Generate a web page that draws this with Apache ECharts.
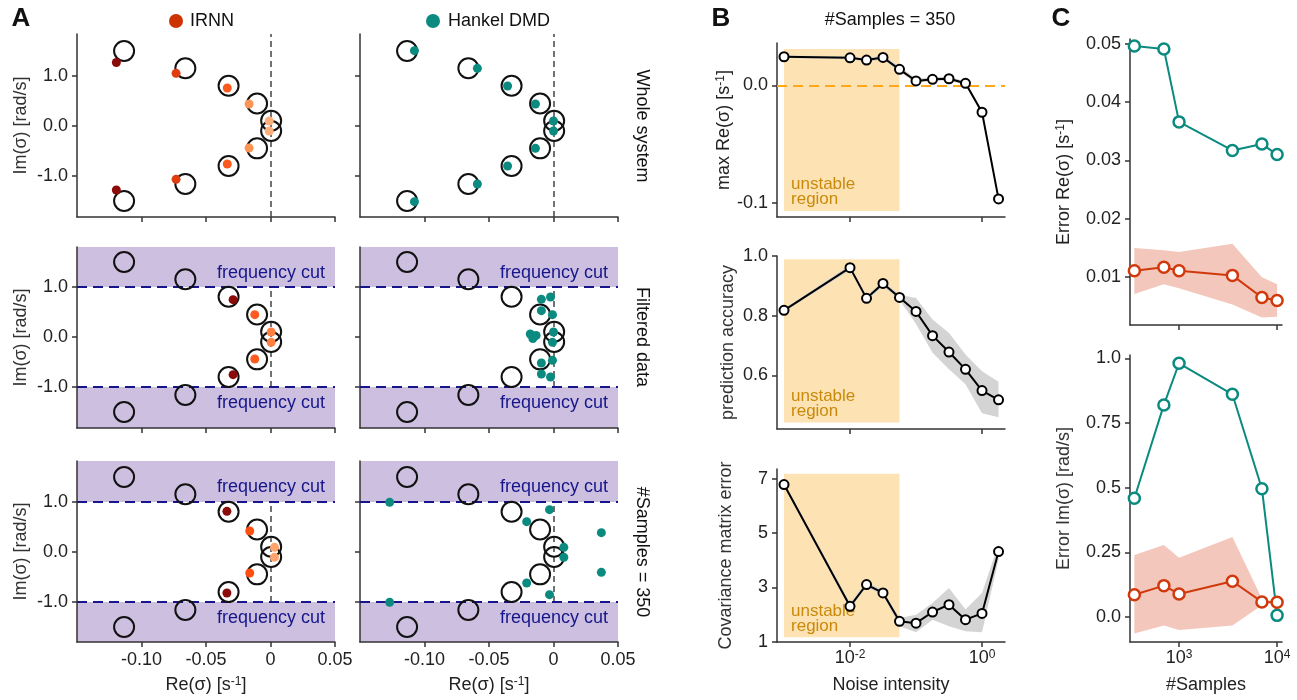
<!DOCTYPE html>
<html>
<head>
<meta charset="utf-8">
<script src="https://cdn.jsdelivr.net/npm/echarts@6/dist/echarts.min.js"></script>
<style>
  html, body { margin: 0; background: #fff; }
  #main { width: 1297px; height: 700px; }
</style>
</head>
<body>
<div id="main"></div>
<script>
// ---- panel A: eigenvalues (Re, Im) ----
let trueEig = [[-0.1135, 1.5], [-0.066, 1.155], [-0.0325, 0.805], [-0.0104, 0.45], [0.0005, 0.105],
  [0.0005, -0.1], [-0.0104, -0.447], [-0.0325, -0.8], [-0.066, -1.16], [-0.1135, -1.5]];

let irnnWhole = [[-0.1195, 1.27], [-0.0732, 1.053], [-0.0335, 0.76], [-0.0166, 0.44], [-0.001, 0.1],
  [-0.001, -0.1], [-0.0166, -0.44], [-0.0335, -0.76], [-0.0732, -1.067], [-0.1195, -1.28]];
let hankelWhole = [[-0.1078, 1.507], [-0.059, 1.153], [-0.0356, 0.8], [-0.014, 0.44], [0, 0.1],
  [0, -0.1], [-0.014, -0.447], [-0.0356, -0.8], [-0.059, -1.16], [-0.1078, -1.513]];

let irnnFiltered = [[-0.029, 0.747], [-0.0122, 0.447], [0.0005, 0.1], [0.0005, -0.107], [-0.0122, -0.44], [-0.029, -0.753]];
let hankelFiltered = [[-0.0023, 0.8], [-0.0094, 0.753], [-0.0094, 0.527], [-0.0008, 0.447], [-0.018, 0.06],
  [-0.0135, 0.03], [-0.016, -0.03], [0, 0.1], [-0.0008, -0.107], [-0.0008, -0.467], [-0.0094, -0.52],
  [-0.0094, -0.74], [-0.0023, -0.8]];

let irnnSamples = [[-0.0338, 0.813], [-0.0161, 0.42], [0.0031, 0.093], [0.0031, -0.107], [-0.0161, -0.42], [-0.0338, -0.82]];
let hankelSamples = [[-0.127, 0.993], [-0.0031, 0.847], [-0.0208, 0.607], [0.0371, 0.387], [0.008, 0.093],
  [0.008, -0.107], [0.0371, -0.407], [-0.0208, -0.62], [-0.0031, -0.853], [-0.127, -1.007]];

// ---- panel B: vs noise intensity ----
let noise = [0.001, 0.01, 0.0178, 0.0316, 0.0562, 0.1, 0.178, 0.316, 0.562, 1, 1.78];
let maxRe = [0.0243, 0.0234, 0.0215, 0.0237, 0.0136, 0.0037, 0.0051, 0.0056, 0.0017, -0.0229, -0.0966];
let maxReLo = [0.0232, 0.0222, 0.0200, 0.0220, 0.0116, 0.0022, 0.0036, 0.0040, 0.0003, -0.0245, -0.0985];
let maxReHi = [0.0254, 0.0248, 0.0232, 0.0256, 0.0160, 0.0055, 0.0068, 0.0075, 0.0032, -0.0212, -0.0948];
let accuracy = [0.818, 0.961, 0.858, 0.908, 0.861, 0.814, 0.733, 0.678, 0.620, 0.549, 0.518];
let accLo = [0.813, 0.952, 0.850, 0.898, 0.853, 0.772, 0.676, 0.620, 0.570, 0.473, 0.459];
let accHi = [0.823, 0.970, 0.866, 0.916, 0.870, 0.859, 0.787, 0.742, 0.670, 0.614, 0.578];
let covErr = [6.78, 2.31, 3.11, 2.80, 1.76, 1.69, 2.10, 2.37, 1.82, 2.05, 4.32];
let covLo = [6.70, 2.22, 3.02, 2.72, 1.58, 1.36, 1.82, 1.58, 1.39, 1.36, 4.02];
let covHi = [6.86, 2.42, 3.22, 2.90, 1.88, 2.00, 2.43, 2.98, 2.19, 2.80, 4.61];
let unstableNoise = [0.001, 0.0562];

// ---- panel C: vs number of samples ----
let samples = [350, 700, 1000, 3500, 7000, 10000];
let hankelReErr = [0.0496, 0.0491, 0.0366, 0.0317, 0.0328, 0.0310];
let irnnReErr = [0.0111, 0.0117, 0.0111, 0.0103, 0.0065, 0.0060];
let irnnReLo = [0.0071, 0.0088, 0.0081, 0.0053, 0.0031, 0.0032];
let irnnReHi = [0.0150, 0.0146, 0.0143, 0.0157, 0.0100, 0.0088];
let hankelImErr = [0.459, 0.820, 0.981, 0.861, 0.496, 0.006];
let irnnImErr = [0.086, 0.121, 0.089, 0.138, 0.058, 0.057];
let irnnImLo = [-0.064, -0.033, -0.051, -0.033, 0.045, 0.057];
let irnnImHi = [0.239, 0.278, 0.229, 0.309, 0.070, 0.057];

// colours
const FONT = 'Liberation Sans, Arial, sans-serif';
const AX = '#333';
const TEAL = '#0b8a80';
const RED = '#d0390c';
const NAVY = '#16168a';
const PURPLE = '#cdbfe0';
const UNSTABLE = '#fde3b3';
const DR = '#8b0a0a', RO = '#df3d0e', OR = '#fb5a1e', LO = '#fc9456', PO = '#fdaf7c';
let irnnWholeColors = [DR, RO, OR, LO, PO, PO, LO, OR, RO, DR];
let irnnFilteredColors = [DR, '#ff5a1f', '#ff8040', '#ff8040', '#ff5a1f', DR];
let irnnSamplesColors = [DR, '#ff4f10', '#ffa46c', '#ffa46c', '#ff4f10', DR];

const chartDom = document.getElementById('main');
const myChart = echarts.init(chartDom);

const rich = {
  a: { fontSize: 18, fontFamily: FONT, color: '#222' },
  b: { fontSize: 12, fontFamily: FONT, color: '#222', verticalAlign: 'top' }
};
const supLabel = (base, sup) => '{a|' + base + '}{b|' + sup + '}';

function axisCommon(extra) {
  return Object.assign({
    axisLine: { onZero: false, lineStyle: { color: AX, width: 1.5 } },
    splitLine: { show: false }
  }, extra);
}

function valueAxis(grid, min, max, ticks, showLabels, fmt, name, gap) {
  return axisCommon({
    type: 'value', gridIndex: grid, min: min, max: max,
    axisTick: { customValues: ticks, length: 5, lineStyle: { color: AX, width: 1.5 } },
    axisLabel: {
      show: showLabels, customValues: ticks, formatter: fmt, margin: 9,
      fontSize: 18, fontFamily: FONT, color: '#222', rich: rich
    },
    name: name || '', nameLocation: 'middle', nameGap: gap || 30,
    nameTextStyle: { fontSize: 18, fontFamily: FONT, color: '#333', rich: rich }
  });
}

function logAxis(grid, min, max, ticks, showLabels, fmt, name) {
  return axisCommon({
    type: 'log', logBase: 10, gridIndex: grid, min: min, max: max,
    axisTick: { customValues: ticks, length: 5, lineStyle: { color: AX, width: 1.5 } },
    axisLabel: {
      show: showLabels, customValues: ticks, formatter: fmt, margin: 7,
      fontSize: 18, fontFamily: FONT, color: '#222', rich: rich
    },
    minorTick: { show: false },
    name: name || '', nameLocation: 'middle', nameGap: 34,
    nameTextStyle: { fontSize: 18, fontFamily: FONT, color: '#222' }
  });
}

function band(axisIdx, xs, lo, hi, color) {
  return {
    type: 'custom', xAxisIndex: axisIdx, yAxisIndex: axisIdx, silent: true, z: 2,
    data: [[xs[0], lo[0]]],
    renderItem: function (params, api) {
      let pts = [];
      for (let i = 0; i < xs.length; i++) pts.push(api.coord([xs[i], hi[i]]));
      for (let i = xs.length - 1; i >= 0; i--) pts.push(api.coord([xs[i], lo[i]]));
      return { type: 'polygon', shape: { points: pts }, style: { fill: color } };
    }
  };
}

const pairs = (xs, ys) => xs.map((x, i) => [x, ys[i]]);

// grids
const aTops = [34, 247, 461], aHeights = [183, 181, 181], aLefts = [77, 360];
let grid = [];
for (let r = 0; r < 3; r++) {
  for (let c = 0; c < 2; c++) {
    grid.push({ left: aLefts[c], top: aTops[r], width: 258, height: aHeights[r] });
  }
}
grid.push({ left: 777, top: 43, width: 228, height: 174 });
grid.push({ left: 777, top: 256, width: 228, height: 173 });
grid.push({ left: 777, top: 469, width: 228, height: 173 });
grid.push({ left: 1130, top: 39, width: 152, height: 286 });
grid.push({ left: 1130, top: 355, width: 152, height: 287 });

const aYRanges = [[-1.82, 1.84], [-1.82, 1.80], [-1.80, 1.82]];
const reTicks = [-0.1, -0.05, 0, 0.05];
const reFmt = v => (v === 0 ? '0' : v.toFixed(2));
const imFmt = v => v.toFixed(1);

let xAxis = [], yAxis = [];
for (let r = 0; r < 3; r++) {
  for (let c = 0; c < 2; c++) {
    let g = r * 2 + c;
    xAxis.push(valueAxis(g, -0.15, 0.05, reTicks, r === 2, reFmt,
      r === 2 ? '{a|Re(σ) [s}{b|-1}{a|]}' : '', 34));
    yAxis.push(valueAxis(g, aYRanges[r][0], aYRanges[r][1], [-1, 0, 1], c === 0, imFmt,
      c === 0 ? 'Im(σ) [rad/s]' : '', 47));
  }
}
const noiseFmt = v => (Math.abs(v - 0.01) < 1e-9 ? supLabel('10', '-2') : supLabel('10', '0'));
for (let i = 0; i < 3; i++) {
  xAxis.push(logAxis(6 + i, 0.000783, 2.23, [0.01, 1], i === 2, noiseFmt, i === 2 ? 'Noise intensity' : ''));
}
yAxis.push(valueAxis(6, -0.112, 0.036, [-0.1, 0], true, v => v.toFixed(1), '{a|max Re(σ) [s}{b|-1}{a|]}', 40));
yAxis.push(valueAxis(7, 0.42, 1.0, [0.6, 0.8, 1.0], true, v => v.toFixed(1), 'prediction accuracy', 40));
yAxis.push(valueAxis(8, 1, 7.35, [1, 3, 5, 7], true, v => String(v), 'Covariance matrix error', 42));
const sampFmt = v => (v < 5000 ? supLabel('10', '3') : supLabel('10', '4'));
xAxis.push(logAxis(9, 316, 11220, [1000, 10000], false, sampFmt, ''));
xAxis.push(logAxis(10, 316, 11220, [1000, 10000], true, sampFmt, '#Samples'));
yAxis.push(valueAxis(9, 0.0018, 0.0508, [0.01, 0.02, 0.03, 0.04, 0.05], true, v => v.toFixed(2),
  '{a|Error Re(σ) [s}{b|-1}{a|]}', 57));
yAxis.push(valueAxis(10, -0.097, 1.013, [0, 0.25, 0.5, 0.75, 1], true,
  v => (v === 0 || v === 1 ? v.toFixed(1) : String(v)), 'Error Im(σ) [rad/s]', 57));

// series
let series = [];
const freqLabel = (dy) => ({
  show: true, position: 'insideRight', distance: 10, offset: [0, dy],
  formatter: 'frequency cut', color: NAVY, fontSize: 18, fontFamily: FONT
});

const aDots = [
  [irnnWhole, irnnWholeColors], [hankelWhole, null],
  [irnnFiltered, irnnFilteredColors], [hankelFiltered, null],
  [irnnSamples, irnnSamplesColors], [hankelSamples, null]
];

for (let g = 0; g < 6; g++) {
  let r = Math.floor(g / 2);
  let ymin = aYRanges[r][0], ymax = aYRanges[r][1];
  let circles = {
    type: 'scatter', xAxisIndex: g, yAxisIndex: g, z: 3,
    symbol: 'circle', symbolSize: 20,
    itemStyle: { color: 'rgba(0,0,0,0)', borderColor: '#111', borderWidth: 2, opacity: 1 },
    data: trueEig
  };
  if (r === 0) {
    circles.markLine = {
      z: 1, silent: true, symbol: 'none', label: { show: false },
      lineStyle: { color: '#444', width: 1.5, type: [6, 4] },
      data: [{ xAxis: 0 }]
    };
  } else {
    circles.markArea = {
      z: 0, silent: true,
      itemStyle: { color: PURPLE },
      data: [
        [{ coord: [-0.15, 1], label: freqLabel(6) }, { coord: [0.05, ymax] }],
        [{ coord: [-0.15, ymin], label: freqLabel(-4) }, { coord: [0.05, -1] }]
      ]
    };
    circles.markLine = {
      z: 1, silent: true, symbol: 'none', label: { show: false },
      data: [
        [{ coord: [0, -1], lineStyle: { color: '#444', width: 1.5, type: [6, 4] } }, { coord: [0, 1] }],
        [{ coord: [-0.15, 1], lineStyle: { color: NAVY, width: 2, type: [10, 6] } }, { coord: [0.05, 1] }],
        [{ coord: [-0.15, -1], lineStyle: { color: NAVY, width: 2, type: [10, 6] } }, { coord: [0.05, -1] }]
      ]
    };
  }
  series.push(circles);
  let pts = aDots[g][0], cols = aDots[g][1];
  series.push({
    type: 'scatter', xAxisIndex: g, yAxisIndex: g, z: 4,
    symbol: 'circle', symbolSize: 9,
    itemStyle: { color: TEAL, opacity: 1 },
    data: pts.map((p, i) => (cols ? { value: p, itemStyle: { color: cols[i], opacity: 1 } } : p))
  });
}

const unstableLabel = {
  show: true, position: 'insideBottomLeft', distance: 4, offset: [3, 0],
  formatter: 'unstable\nregion', color: '#c98a0c', fontSize: 17, fontFamily: FONT, lineHeight: 15
};
const unstableBox = [[0.031, -0.107], [0.989, 0.442], [7.18, 1.17]];
const bSeries = [[maxRe, maxReLo, maxReHi], [accuracy, accLo, accHi], [covErr, covLo, covHi]];
for (let i = 0; i < 3; i++) {
  let g = 6 + i;
  let holder = {
    type: 'line', xAxisIndex: g, yAxisIndex: g, data: [], z: 1,
    markArea: {
      z: 0, silent: true, itemStyle: { color: UNSTABLE },
      label: unstableLabel,
      data: [[{ coord: [unstableNoise[0], unstableBox[i][0]] },
        { coord: [unstableNoise[1], unstableBox[i][1]] }]]
    }
  };
  if (i === 0) {
    holder.markLine = {
      z: 1, silent: true, symbol: 'none', label: { show: false },
      lineStyle: { color: '#ffa91a', width: 2, type: [10, 6] },
      data: [{ yAxis: 0 }]
    };
  }
  series.push(holder);
  series.push(band(g, noise, bSeries[i][1], bSeries[i][2], '#d4d4d4'));
  series.push({
    type: 'line', xAxisIndex: g, yAxisIndex: g, z: 3,
    data: pairs(noise, bSeries[i][0]),
    symbol: 'circle', symbolSize: 9,
    lineStyle: { color: '#000', width: 2 },
    itemStyle: { color: '#fff', borderColor: '#000', borderWidth: 2 }
  });
}

const cLine = (g, ys, color) => ({
  type: 'line', xAxisIndex: g, yAxisIndex: g, z: 3,
  data: pairs(samples, ys),
  symbol: 'circle', symbolSize: 11,
  lineStyle: { color: color, width: 2 },
  itemStyle: { color: '#fff', borderColor: color, borderWidth: 2.5 }
});
series.push(band(9, samples, irnnReLo, irnnReHi, '#f3c7bb'));
series.push(cLine(9, hankelReErr, TEAL));
series.push(cLine(9, irnnReErr, RED));
series.push(band(10, samples, irnnImLo, irnnImHi, '#f3c7bb'));
series.push(cLine(10, hankelImErr, TEAL));
series.push(cLine(10, irnnImErr, RED));

const txt = (x, y, text, extra) => ({
  type: 'text', x: x, y: y,
  style: Object.assign({ text: text, fontSize: 18, fontFamily: FONT, fill: '#111',
    textAlign: 'center', textVerticalAlign: 'middle' }, extra)
});
const sideTxt = (y, text) => Object.assign(txt(642, y, text), { rotation: -Math.PI / 2 });

let option = {
  animation: false,
  backgroundColor: '#fff',
  grid: grid,
  xAxis: xAxis,
  yAxis: yAxis,
  series: series,
  graphic: [
    txt(21, 19, 'A', { fontSize: 26, fontWeight: 'bold' }),
    txt(721, 19, 'B', { fontSize: 26, fontWeight: 'bold' }),
    txt(1061, 19, 'C', { fontSize: 26, fontWeight: 'bold' }),
    { type: 'circle', shape: { cx: 176, cy: 21, r: 7 }, style: { fill: '#cc3300' } },
    txt(190, 21, 'IRNN', { textAlign: 'left' }),
    { type: 'circle', shape: { cx: 433, cy: 21, r: 7 }, style: { fill: TEAL } },
    txt(448, 21, 'Hankel DMD', { textAlign: 'left' }),
    txt(890, 20, '#Samples = 350'),
    sideTxt(126, 'Whole system'),
    sideTxt(337, 'Filtered data'),
    sideTxt(552, '#Samples = 350')
  ]
};

myChart.setOption(option);
</script>
</body>
</html>
